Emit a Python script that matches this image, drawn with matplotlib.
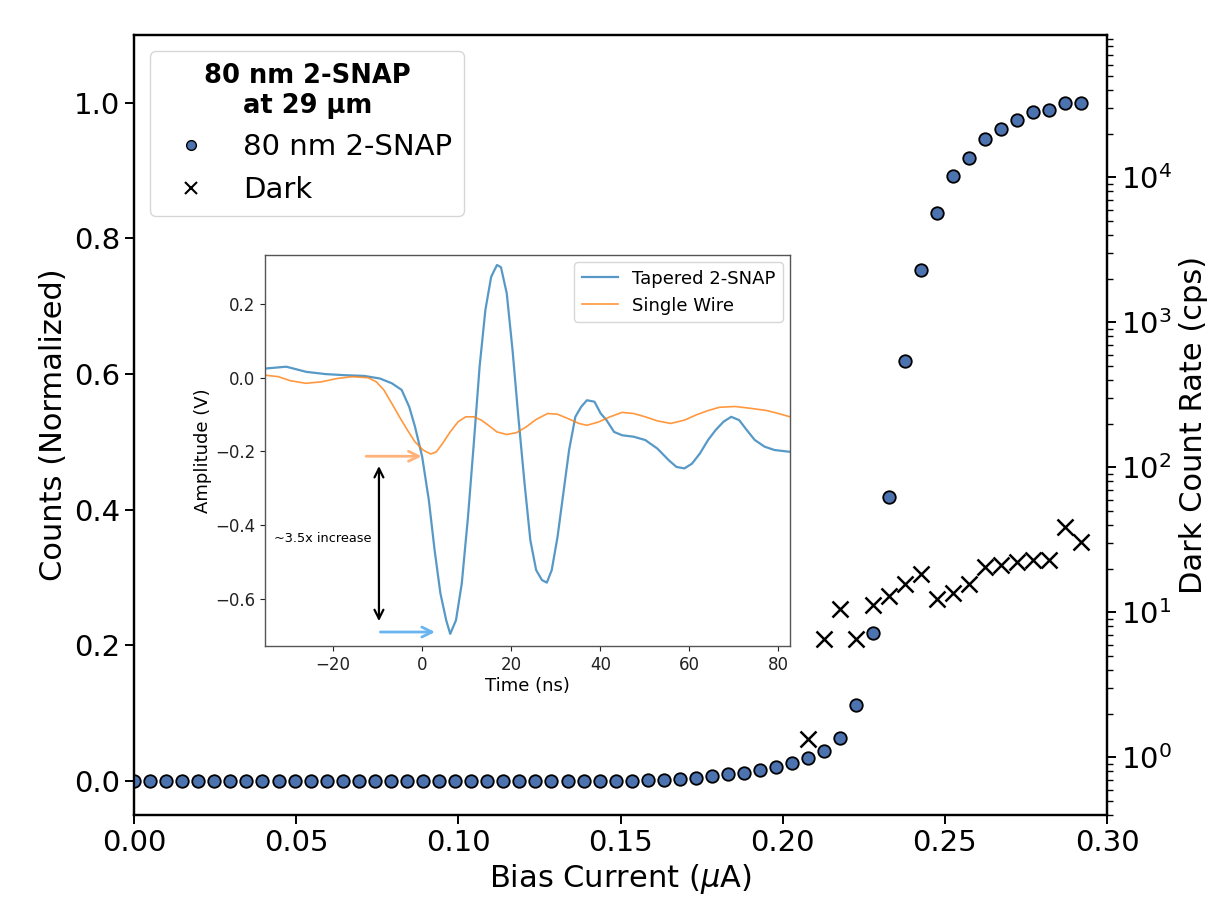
import numpy as np
import matplotlib
matplotlib.use("Agg")
import matplotlib.pyplot as plt
from matplotlib.lines import Line2D

# bias current grid (uA), 60 points
bias = np.arange(60) * 0.00495

# normalized counts for the 80 nm 2-SNAP
counts = [0.0] * 31 + [0.0005, 0.001, 0.0015, 0.0025, 0.005, 0.008, 0.0099,
                       0.0124, 0.016, 0.021, 0.026, 0.0344, 0.045, 0.064,
                       0.112, 0.219, 0.419, 0.620, 0.754, 0.838, 0.892,
                       0.918, 0.946, 0.962, 0.974, 0.986, 0.989, 1.000, 0.9995]

# dark count rate (cps), measured from index 42 onward
dark_start = 42
dark = [1.33, 6.6, 10.6, 6.6, 11.3, 12.9, 15.7, 18.5, 12.3, 13.7,
        15.7, 20.7, 21.3, 22.2, 23.1, 22.8, 38.6, 30.4]

# inset: pulse traces (time in ns, amplitude in V)
t_snap = [-35.3, -30.5, -26.0, -21.7, -17.4, -13.0, -9.5, -6.8, -4.6, -2.9,
          -1.6, 0.0, 1.5, 2.8, 4.1, 5.4, 6.3, 7.6, 8.9, 10.3, 11.6, 12.9,
          14.2, 15.5, 16.8, 17.7, 19.0, 20.3, 21.6, 23.0, 24.3, 25.6, 26.9,
          28.0, 29.1, 30.4, 31.7, 33.0, 34.4, 35.7, 37.0, 38.7, 40.1, 41.4,
          43.1, 44.9, 47.5, 50.1, 52.8, 55.4, 57.1, 58.9, 60.6, 62.4, 64.2,
          65.9, 67.7, 69.4, 71.2, 72.9, 74.7, 76.9, 79.1, 82.6]
v_snap = [0.025, 0.030, 0.016, 0.010, 0.007, 0.005, -0.002, -0.015, -0.033,
          -0.079, -0.133, -0.214, -0.332, -0.468, -0.585, -0.658, -0.695,
          -0.658, -0.558, -0.377, -0.178, 0.030, 0.184, 0.274, 0.306, 0.300,
          0.229, 0.075, -0.106, -0.287, -0.441, -0.522, -0.549, -0.556,
          -0.522, -0.432, -0.314, -0.196, -0.106, -0.079, -0.061, -0.065,
          -0.097, -0.115, -0.147, -0.156, -0.160, -0.169, -0.192, -0.224,
          -0.242, -0.246, -0.233, -0.205, -0.169, -0.142, -0.119, -0.106,
          -0.115, -0.142, -0.169, -0.187, -0.196, -0.201]

t_wire = [-35.3, -32.3, -29.6, -26.1, -22.6, -19.1, -15.6, -12.1, -10.3, -8.6,
          -6.8, -5.1, -3.3, -1.6, 0.2, 1.9, 3.2, 4.6, 6.3, 8.1, 9.8, 11.6,
          13.3, 15.1, 16.8, 19.0, 21.2, 23.4, 25.6, 28.2, 30.4, 32.6, 35.2,
          37.0, 39.6, 42.2, 44.9, 47.5, 50.1, 52.8, 55.8, 58.9, 61.5, 64.2,
          66.8, 70.3, 73.8, 77.4, 80.0, 82.6]
v_wire = [0.007, 0.003, -0.008, -0.015, -0.011, -0.002, 0.003, 0.0, -0.011,
          -0.033, -0.070, -0.106, -0.142, -0.174, -0.196, -0.207, -0.201,
          -0.178, -0.147, -0.119, -0.106, -0.106, -0.115, -0.131, -0.147,
          -0.154, -0.149, -0.133, -0.113, -0.097, -0.099, -0.110, -0.124,
          -0.129, -0.120, -0.106, -0.094, -0.097, -0.106, -0.117, -0.124,
          -0.115, -0.101, -0.089, -0.080, -0.078, -0.083, -0.089, -0.097,
          -0.106]

dot_color = '#4c72b0'

plt.rcParams['font.family'] = ['DejaVu Sans']
plt.rcParams['font.size'] = 21

fig = plt.figure(figsize=(12.12, 9), dpi=100)
ax = fig.add_axes([0.1106, 0.0944, 0.8028, 0.8667])
ax2 = ax.twinx()

ax.plot(bias, counts, 'o', color=dot_color, mec='black', mew=1.3, ms=9,
        zorder=3)
ax2.plot(bias[dark_start:], dark, 'x', color='black', ms=12, mew=1.8)

ax.set_xlim(0, 0.30)
ax.set_ylim(-0.05, 1.1)
ax.set_xticks([0.0, 0.05, 0.10, 0.15, 0.20, 0.25, 0.30])
ax.set_yticks([0.0, 0.2, 0.4, 0.6, 0.8, 1.0])
ax.set_xlabel(r'Bias Current ($\mu$A)', fontsize=22)
ax.set_ylabel('Counts (Normalized)', fontsize=22)

ax2.set_yscale('log')
ax2.set_ylim(0.4, 9.6e4)
ax2.set_ylabel('Dark Count Rate (cps)', fontsize=22, labelpad=5)

for a in (ax, ax2):
    for s in a.spines.values():
        s.set_linewidth(1.6)
    a.tick_params(which='major', length=6.5, width=1.4, labelsize=21)
    a.tick_params(which='minor', length=4, width=1.0)

handles = [Line2D([], [], marker='o', ls='', color=dot_color, mec='black',
                  mew=1.0, ms=7),
           Line2D([], [], marker='x', ls='', color='black', ms=9, mew=1.5)]
leg = ax.legend(handles, ['80 nm 2-SNAP', 'Dark'], loc='upper left',
                title='80 nm 2-SNAP\nat 29 μm', fontsize=21,
                title_fontproperties={'weight': 'bold', 'size': 18.5},
                borderaxespad=0.55)
leg.get_title().set_multialignment('center')
leg.set_zorder(10)

# inset with pulse traces
ax_in = fig.add_axes([0.2186, 0.2822, 0.4332, 0.4344])
ax_in.plot(t_snap, v_snap, color='#1f77b4', lw=1.6, alpha=0.75,
           label='Tapered 2-SNAP')
ax_in.plot(t_wire, v_wire, color='#ff7f0e', lw=1.2, alpha=0.8,
           label='Single Wire')
ax_in.set_xlim(-35.3, 82.6)
ax_in.set_ylim(-0.728, 0.333)
ax_in.set_xticks([-20, 0, 20, 40, 60, 80])
ax_in.set_yticks([-0.6, -0.4, -0.2, 0.0, 0.2])
ax_in.tick_params(labelsize=12, length=3.5, width=0.8, colors='#222222')
for s in ax_in.spines.values():
    s.set_color('#555555')
    s.set_linewidth(1.0)
ax_in.set_xlabel('Time (ns)', fontsize=13, labelpad=2)
ax_in.set_ylabel('Amplitude (V)', fontsize=13, labelpad=2)
ax_in.legend(loc='upper right', fontsize=13, borderaxespad=0.4)

ax_in.annotate('', xy=(0.5, -0.213), xytext=(-13.2, -0.213),
               arrowprops=dict(arrowstyle='->', color='#ffb27a', lw=2,
                               mutation_scale=18))
ax_in.annotate('', xy=(3.5, -0.69), xytext=(-10.0, -0.69),
               arrowprops=dict(arrowstyle='->', color='#6ab4f0', lw=2,
                               mutation_scale=18))
ax_in.annotate('', xy=(-9.7, -0.668), xytext=(-9.7, -0.232),
               arrowprops=dict(arrowstyle='<->', color='black', lw=1.6,
                               mutation_scale=16))
ax_in.text(-22.4, -0.437, '~3.5x increase', fontsize=9.3, ha='center',
           va='center')

fig.savefig('out.png', dpi=100)
